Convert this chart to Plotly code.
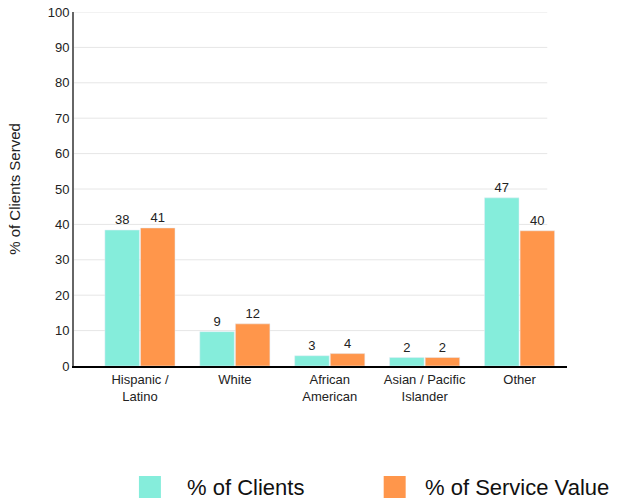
import plotly.graph_objects as go

# Data
categories = ["Hispanic /<br>Latino", "White", "African<br>American", "Asian / Pacific<br>Islander", "Other"]
clients = [38.4, 9.7, 2.9, 2.4, 47.5]
service = [39.0, 11.9, 3.5, 2.4, 38.2]
clients_labels = ["38", "9", "3", "2", "47"]
service_labels = ["41", "12", "4", "2", "40"]
series_names = ["% of Clients", "% of Service Value"]
colors = ["#85EDDB", "#FF964B"]

font_family = "Arial, Liberation Sans, sans-serif"

fig = go.Figure()
fig.add_trace(go.Bar(
    x=categories, y=clients, name=series_names[0], marker_color=colors[0],
    text=clients_labels, textposition="outside", cliponaxis=False,
    textfont=dict(size=13, color="#222"), showlegend=False,
))
fig.add_trace(go.Bar(
    x=categories, y=service, name=series_names[1], marker_color=colors[1],
    text=service_labels, textposition="outside", cliponaxis=False,
    textfont=dict(size=13, color="#222"), showlegend=False,
))

# gridlines stop short of the last bar, so draw them as shapes
shapes = []
for v in range(10, 101, 10):
    shapes.append(dict(type="line", xref="x domain", yref="y", x0=0, x1=0.96, y0=v, y1=v,
                       line=dict(color="#e6e6e6", width=1), layer="below"))

# legend drawn by hand, big squares (paper coords = plot area 493.5 x 354 px)
pw, ph = 493.5, 354
legend_sq = [139, 384]
legend_txt = [185, 423]
for i, name in enumerate(series_names):
    shapes.append(dict(type="rect", xref="paper", yref="paper",
                       x0=(legend_sq[i] - 74) / pw, x1=(legend_sq[i] + 22 - 74) / pw,
                       y0=-(110 + 22) / ph, y1=-110 / ph,
                       fillcolor=colors[i], line=dict(width=0)))

annotations = []
for i, name in enumerate(series_names):
    annotations.append(dict(text=name, xref="paper", yref="paper",
                            x=(legend_txt[i] - 74) / pw, y=-121 / ph,
                            xanchor="left", yanchor="middle", showarrow=False,
                            font=dict(size=22, color="#111", family=font_family)))

fig.update_layout(
    width=636, height=502,
    margin=dict(l=74, r=68.5, t=12, b=136, autoexpand=False),
    barmode="group", bargap=0.25, bargroupgap=0.03,
    plot_bgcolor="white", paper_bgcolor="white",
    font=dict(family=font_family, color="#222", size=12),
    shapes=shapes, annotations=annotations,
    xaxis=dict(range=[-0.695, 4.5], showline=True, linecolor="black", linewidth=2,
               showgrid=False, ticks="", tickfont=dict(size=13, color="#222")),
    yaxis=dict(range=[0, 100], dtick=10, showgrid=False, zeroline=False,
               showline=True, linecolor="#666", linewidth=2, ticklabeloverflow="allow",
               tickfont=dict(size=13, color="#222"),
               title=dict(text="% of Clients Served", font=dict(size=15, color="#222"), standoff=23)),
)

# drop the default 8px body margin so the figure fills the window
fig.write_html("out.html", config={"displayModeBar": False},
               post_script="document.body.style.margin='0';")
